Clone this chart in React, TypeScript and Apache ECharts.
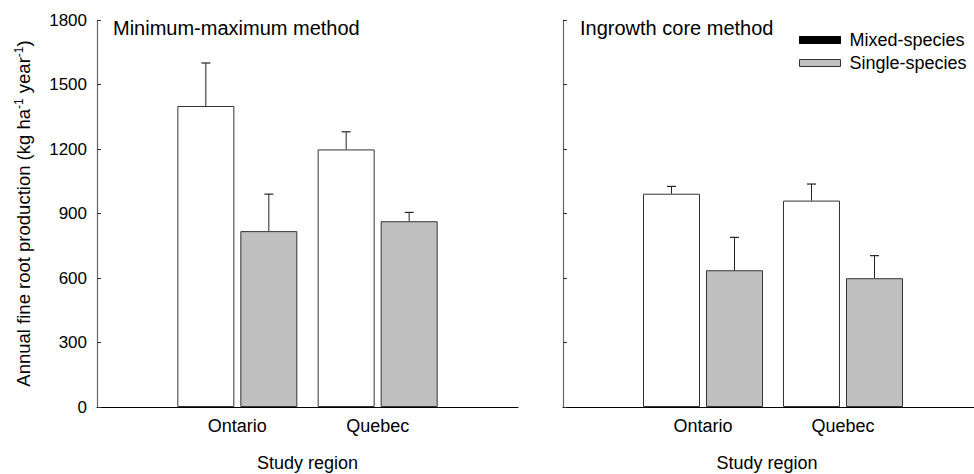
import React, { useEffect, useRef } from "react";
import * as echarts from "echarts";

const categories = ["", "Ontario", "Quebec", ""];
const panelTitles = ["Minimum-maximum method", "Ingrowth core method"];
const seriesNames = ["Mixed-species", "Single-species"];
const yTicks = [0, 300, 600, 900, 1200, 1500, 1800];

// Minimum-maximum method (left panel)
const minMaxMixed = [null, 1400, 1198, null];
const minMaxMixedErr = [null, 1600, 1280, null];
const minMaxSingle = [null, 818, 864, null];
const minMaxSingleErr = [null, 990, 905, null];

// Ingrowth core method (right panel)
const ingrowthMixed = [null, 992, 960, null];
const ingrowthMixedErr = [null, 1026, 1037, null];
const ingrowthSingle = [null, 636, 599, null];
const ingrowthSingleErr = [null, 789, 704, null];

const FONT = "'Liberation Sans', Arial, Helvetica, sans-serif";
const BAR_W = 57;
const BAR_GAP = 6;

export default function App() {
  const ref = useRef<HTMLDivElement>(null);

  useEffect(() => {
    if (!ref.current) return;
    const chart = echarts.init(ref.current, undefined, { renderer: "svg" });

    const errSeries = (
      name: string,
      grid: number,
      tops: (number | null)[],
      vals: (number | null)[],
      side: number
    ) => ({
      type: "custom",
      name: name + "-err",
      xAxisIndex: grid,
      yAxisIndex: grid,
      z: 5,
      silent: true,
      data: tops
        .map((t, i) => (t == null ? null : [i, vals[i], t]))
        .filter((d) => d != null),
      renderItem: (params: any, api: any) => {
        const base = api.coord([api.value(0), api.value(1)]);
        const top = api.coord([api.value(0), api.value(2)]);
        const x = base[0] + side * (BAR_W + BAR_GAP) / 2;
        return {
          type: "group",
          children: [
            {
              type: "line",
              shape: { x1: x, y1: base[1], x2: x, y2: top[1] },
              style: { stroke: "#222", lineWidth: 1 },
            },
            {
              type: "line",
              shape: { x1: x - 4.5, y1: top[1], x2: x + 4.5, y2: top[1] },
              style: { stroke: "#222", lineWidth: 1.2 },
            },
          ],
        };
      },
    });

    const barSeries = (name: string, grid: number, data: (number | null)[], fill: string) => ({
      type: "bar",
      name,
      xAxisIndex: grid,
      yAxisIndex: grid,
      data,
      barWidth: BAR_W,
      barGap: (BAR_GAP / BAR_W) * 100 + "%",
      itemStyle: { color: fill, borderColor: "#333", borderWidth: 1 },
      z: 2,
    });

    const xAxis = (grid: number, namePad: number[]) => ({
      type: "category",
      gridIndex: grid,
      data: categories,
      boundaryGap: false,
      axisLine: { lineStyle: { color: "#000", width: 1.2 } },
      axisTick: { show: false },
      axisLabel: { fontSize: 18, color: "#000", fontFamily: FONT, margin: 10, interval: 0 },
      name: "Study region",
      nameLocation: "middle",
      nameGap: 47,
      nameTextStyle: { fontSize: 18, color: "#000", fontFamily: FONT, padding: namePad },
    });

    const yAxis = (grid: number, showLabels: boolean) => ({
      type: "value",
      gridIndex: grid,
      min: 0,
      max: 1800,
      interval: 300,
      axisLine: { show: true, lineStyle: { color: "#666", width: 1.2 } },
      axisTick: { show: true, inside: true, length: 4, lineStyle: { color: "#333" } },
      splitLine: { show: false },
      axisLabel: {
        show: showLabels,
        fontSize: 17,
        color: "#000",
        fontFamily: FONT,
        margin: 10,
        formatter: (v: number) => (yTicks.includes(v) ? String(v) : ""),
      },
      ...(showLabels
        ? {
            name:
              "{a|Annual fine root production (kg ha}{s|-1}{a| year}{s|-1}{a|)}",
            nameLocation: "middle",
            nameGap: 63,
            nameRotate: 90,
            nameTextStyle: {
              rich: {
                a: { fontSize: 18.5, color: "#000", fontFamily: FONT },
                s: { fontSize: 12, color: "#000", fontFamily: FONT, padding: [0, 0, 9, 0] },
              },
            },
          }
        : {}),
    });

    chart.setOption({
      animation: false,
      backgroundColor: "#fff",
      textStyle: { fontFamily: FONT },
      title: [
        {
          text: panelTitles[0],
          left: 113,
          top: 18,
          padding: 0,
          textStyle: { fontSize: 20, fontWeight: "normal", color: "#000", fontFamily: FONT },
        },
        {
          text: panelTitles[1],
          left: 580,
          top: 18,
          padding: 0,
          textStyle: { fontSize: 20, fontWeight: "normal", color: "#000", fontFamily: FONT },
        },
      ],
      legend: {
        orient: "vertical",
        left: 799,
        top: 31,
        padding: 0,
        itemWidth: 41,
        itemHeight: 7,
        itemGap: 5,
        icon: "rect",
        textStyle: { fontSize: 18, color: "#000", fontFamily: FONT, padding: [0, 0, 0, 4] },
        data: [
          { name: seriesNames[0], itemStyle: { color: "#000", borderColor: "#000", borderWidth: 1 } },
          { name: seriesNames[1], itemStyle: { color: "#c0c0c0", borderColor: "#333", borderWidth: 1 } },
        ],
      },
      grid: [
        { left: 97, top: 20, width: 421, height: 387, outerBoundsMode: "none" },
        { left: 563, top: 20, width: 420, height: 387, outerBoundsMode: "none" },
      ],
      xAxis: [xAxis(0, [0, 0, 0, 0]), xAxis(1, [0, 12, 0, 0])],
      yAxis: [yAxis(0, true), yAxis(1, false)],
      series: [
        barSeries(seriesNames[0], 0, minMaxMixed, "#ffffff"),
        barSeries(seriesNames[1], 0, minMaxSingle, "#c0c0c0"),
        barSeries(seriesNames[0], 1, ingrowthMixed, "#ffffff"),
        barSeries(seriesNames[1], 1, ingrowthSingle, "#c0c0c0"),
        errSeries("m0", 0, minMaxMixedErr, minMaxMixed, -1),
        errSeries("s0", 0, minMaxSingleErr, minMaxSingle, 1),
        errSeries("m1", 1, ingrowthMixedErr, ingrowthMixed, -1),
        errSeries("s1", 1, ingrowthSingleErr, ingrowthSingle, 1),
      ],
    });

    return () => chart.dispose();
  }, []);

  return <div ref={ref} style={{ width: 974, height: 474, position: "absolute", left: 0, top: 0 }} />;
}
